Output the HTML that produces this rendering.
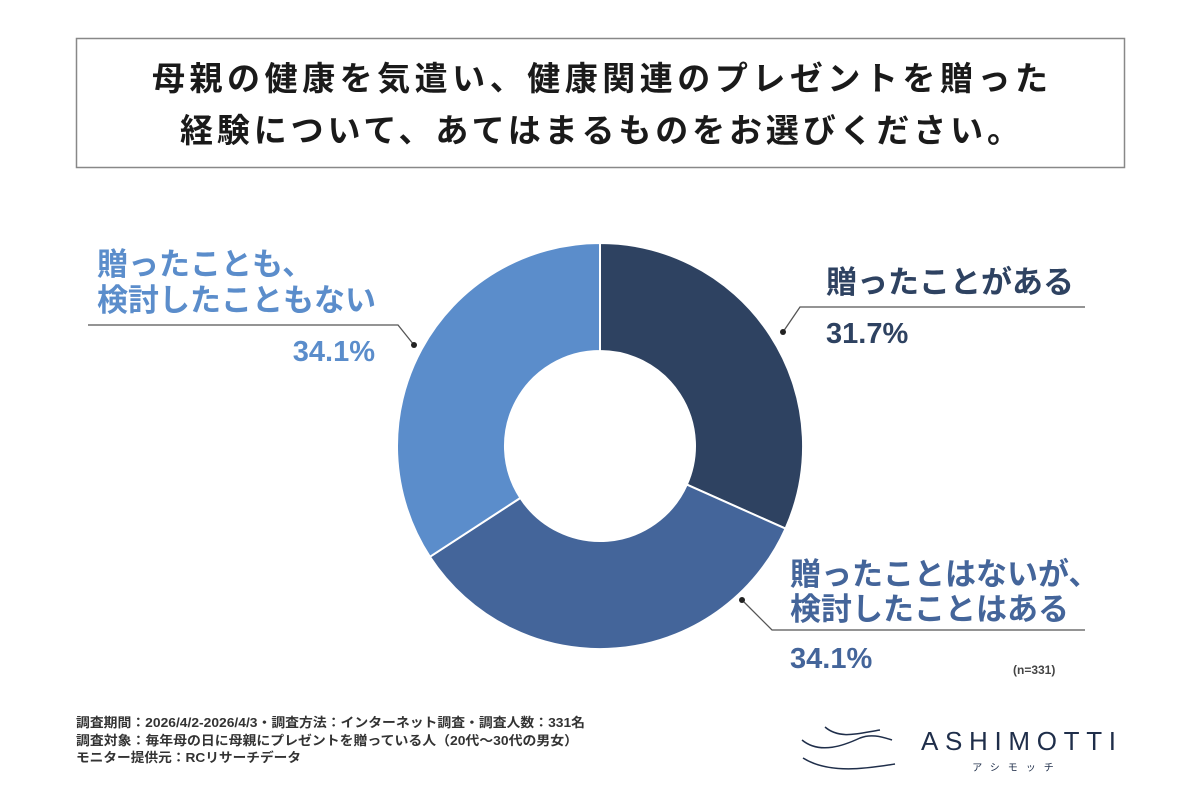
<!DOCTYPE html>
<html><head><meta charset="utf-8"><style>
body{margin:0;width:1200px;height:800px;background:#fff;overflow:hidden;font-family:"Liberation Sans","Noto Sans CJK JP",sans-serif;}
</style></head><body>
<svg width="1200" height="800" xmlns="http://www.w3.org/2000/svg" style="position:absolute;left:0;top:0">
<rect x="76.5" y="38.5" width="1048" height="129" fill="#fff" stroke="#888" stroke-width="1.5"/>
<g font-family="Liberation Sans, Noto Sans CJK JP, sans-serif" font-weight="bold" text-anchor="middle" fill="#1a1a1a" font-size="33">
<text x="600" y="90" textLength="896" lengthAdjust="spacing">母親の健康を気遣い、健康関連のプレゼントを贈った</text>
<text x="600" y="142" textLength="840" lengthAdjust="spacing">経験について、あてはまるものをお選びください。</text>
</g>
<g stroke="#fff" stroke-width="2">
<path d="M600 243 A203 203 0 0 1 785.5 528.6 L686.8 484.6 A95 95 0 0 0 600 351 Z" fill="#2e4261"/>
<path d="M785.5 528.6 A203 203 0 0 1 429.9 556.8 L520.4 497.9 A95 95 0 0 0 686.8 484.6 Z" fill="#44659a"/>
<path d="M429.9 556.8 A203 203 0 0 1 600 243 L600 351 A95 95 0 0 0 520.4 497.9 Z" fill="#5b8dcb"/>
</g>
<g stroke="#555" stroke-width="1.3" fill="none">
<polyline points="783,332 800,307 1085,307"/>
<polyline points="414,345 398,325 88,325"/>
<polyline points="742,600 772,630 1085,630"/>
</g>
<circle cx="783" cy="332" r="3" fill="#222"/>
<circle cx="414" cy="345" r="3" fill="#222"/>
<circle cx="742" cy="600" r="3" fill="#222"/>
<g font-weight="bold" font-size="31">
<text x="826" y="293" fill="#2e4261">贈ったことがある</text>
<text x="826" y="343" fill="#2e4261" font-size="29">31.7%</text>
<text x="97" y="275" fill="#5b8dcb">贈ったことも、</text>
<text x="97" y="311" fill="#5b8dcb">検討したこともない</text>
<text x="375" y="361" fill="#5b8dcb" font-size="29" text-anchor="end">34.1%</text>
<text x="790" y="585" fill="#44659a">贈ったことはないが、</text>
<text x="790" y="620" fill="#44659a">検討したことはある</text>
<text x="790" y="668" fill="#44659a" font-size="29">34.1%</text>
</g>
<text x="1013" y="674" font-size="12" fill="#444" font-weight="bold">(n=331)</text>
<g font-size="13" fill="#333" font-weight="bold">
<text x="76" y="727" textLength="509" lengthAdjust="spacingAndGlyphs">調査期間：2026/4/2-2026/4/3・調査方法：インターネット調査・調査人数：331名</text>
<text x="76" y="745" textLength="502" lengthAdjust="spacingAndGlyphs">調査対象：毎年母の日に母親にプレゼントを贈っている人（20代～30代の男女）</text>
<text x="76" y="762" textLength="225" lengthAdjust="spacingAndGlyphs">モニター提供元：RCリサーチデータ</text>
</g>
<g stroke="#1f2e4a" stroke-width="1.5" fill="none">
<path d="M803 758 C830 775 870 768 895 764"/>
<path d="M802 740 C820 755 845 745 860 738 C870 734 880 736 892 740"/>
<path d="M825 727 C840 740 860 733 880 730"/>
</g>
<text x="921" y="750" font-size="26" fill="#1f2e4a" textLength="195" lengthAdjust="spacing">ASHIMOTTI</text>
<text x="1017" y="771" font-size="10" fill="#1f2e4a" text-anchor="middle" letter-spacing="8">アシモッチ</text>
</svg>
</body></html>
